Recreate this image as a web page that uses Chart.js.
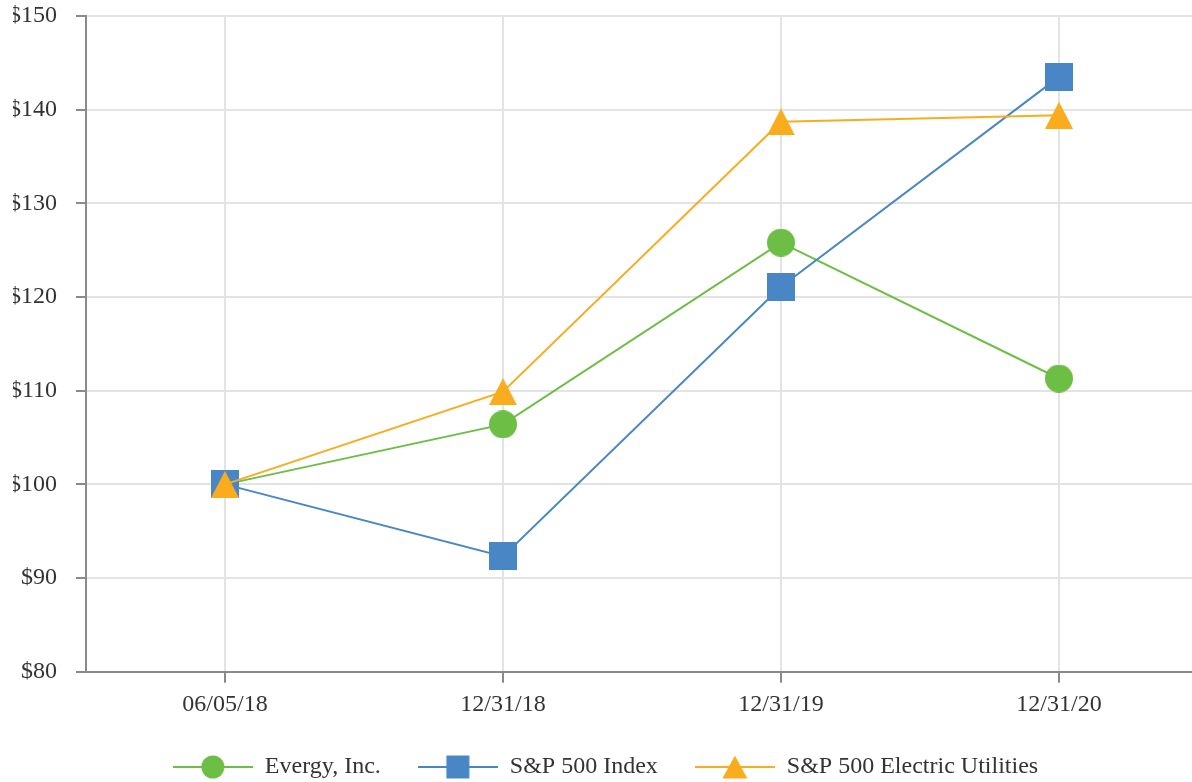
<!DOCTYPE html>
<html><head><meta charset="utf-8">
<script src="https://cdn.jsdelivr.net/npm/chart.js@4.4.1/dist/chart.umd.min.js"></script>
<style>
html,body{margin:0;padding:0;background:#fff;overflow:hidden;}
#c{display:block;}
</style></head><body>
<canvas id="c" width="1198" height="782" style="width:1198px;height:782px;"></canvas>
<script>
// ---- data ----
const categories = ['06/05/18', '12/31/18', '12/31/19', '12/31/20'];
const evergy = [100, 106.4, 125.8, 111.3];
const sp500 = [100, 92.3, 121.1, 143.5];
const utilities = [100, 109.9, 138.7, 139.4];
const seriesNames = ['Evergy, Inc.', 'S&P 500 Index', 'S&P 500 Electric Utilities'];
const yMin = 80, yMax = 150, yStep = 10;

// ---- styles ----
const GREEN = '#6DBE45', BLUE = '#4886C6', ORANGE = '#F8AC1E';
const FONT = "'Liberation Serif', 'Times New Roman', serif";
const TEXT = '#333333';

function drawShape(ctx, shape, color, cx, cy, w, h) {
  ctx.fillStyle = color;
  ctx.beginPath();
  if (shape === 'circle') {
    ctx.arc(cx, cy, w / 2, 0, Math.PI * 2);
  } else if (shape === 'square') {
    ctx.rect(cx - w / 2, cy - h / 2, w, h);
  } else {
    ctx.moveTo(cx, cy - h / 2);
    ctx.lineTo(cx + w / 2, cy + h / 2);
    ctx.lineTo(cx - w / 2, cy + h / 2);
    ctx.closePath();
  }
  ctx.fill();
}
function marker(shape, color, w, h) {
  const c = document.createElement('canvas');
  c.width = w; c.height = h;
  drawShape(c.getContext('2d'), shape, color, w / 2, h / 2, w, h);
  return c;
}
function legendIcon(shape, color, w, h) {
  const c = document.createElement('canvas');
  c.width = 80; c.height = 28;
  const ctx = c.getContext('2d');
  ctx.strokeStyle = color; ctx.lineWidth = 2;
  ctx.beginPath(); ctx.moveTo(0, 14); ctx.lineTo(80, 14); ctx.stroke();
  drawShape(ctx, shape, color, 40, 14, w, h);
  return c;
}

const colors = [GREEN, BLUE, ORANGE];
const chartMarkers = [marker('circle', GREEN, 28, 28), marker('square', BLUE, 28, 28), marker('triangle', ORANGE, 28, 27)];
const legendMarkers = [legendIcon('circle', GREEN, 23, 23), legendIcon('square', BLUE, 23, 23), legendIcon('triangle', ORANGE, 25, 23)];
const seriesData = [evergy, sp500, utilities];

const datasets = seriesData.map((d, i) => ({
  label: seriesNames[i],
  data: d,
  borderColor: colors[i],
  backgroundColor: colors[i],
  borderWidth: 2,
  pointStyle: chartMarkers[i],
  pointRadius: 14,
  pointHoverRadius: 14,
  tension: 0,
  fill: false,
  clip: false,
  order: 3 - i
}));

const legendFitPlugin = {
  id: 'legendFit',
  beforeInit(chart) {
    const lg = chart.legend;
    const f = lg.fit;
    lg.fit = function () { f.call(this); this.height = 64; };
  }
};

new Chart(document.getElementById('c'), {
  type: 'line',
  data: { labels: categories, datasets },
  plugins: [legendFitPlugin],
  options: {
    responsive: false,
    devicePixelRatio: 1,
    animation: false,
    events: [],
    layout: { autoPadding: false, padding: { left: 13, top: 16, right: 0, bottom: 0 } },
    scales: {
      x: {
        offset: true,
        grid: { offset: false, color: '#e3e3e3', lineWidth: 2, tickColor: '#8a8a8a', tickLength: 11, drawTicks: true },
        border: { color: '#8a8a8a', width: 2 },
        ticks: { color: TEXT, font: { family: FONT, size: 24 }, padding: 8, maxRotation: 0 },
        afterFit(s) { s.height = 46.3; s.paddingLeft = 0; s.paddingRight = 0; }
      },
      y: {
        min: yMin, max: yMax,
        grid: { color: '#e3e3e3', lineWidth: 2, tickColor: '#8a8a8a', tickLength: 10 },
        border: { color: '#8a8a8a', width: 2 },
        ticks: { stepSize: yStep, color: TEXT, font: { family: FONT, size: 24 }, padding: 19,
                 callback: v => '$' + v },
        afterFit(s) { s.width = 73; s.paddingTop = 0; s.paddingBottom = 0; }
      }
    },
    plugins: {
      tooltip: { enabled: false },
      legend: {
        position: 'bottom',
        labels: {
          usePointStyle: true,
          pointStyleWidth: 80,
          padding: 37,
          color: TEXT,
          font: { family: FONT, size: 24 },
          sort: (a, b) => a.datasetIndex - b.datasetIndex,
          generateLabels(chart) {
            const items = Chart.defaults.plugins.legend.labels.generateLabels(chart);
            items.forEach(it => { it.pointStyle = legendMarkers[it.datasetIndex]; });
            return items;
          }
        }
      }
    }
  }
});
</script>
</body></html>
